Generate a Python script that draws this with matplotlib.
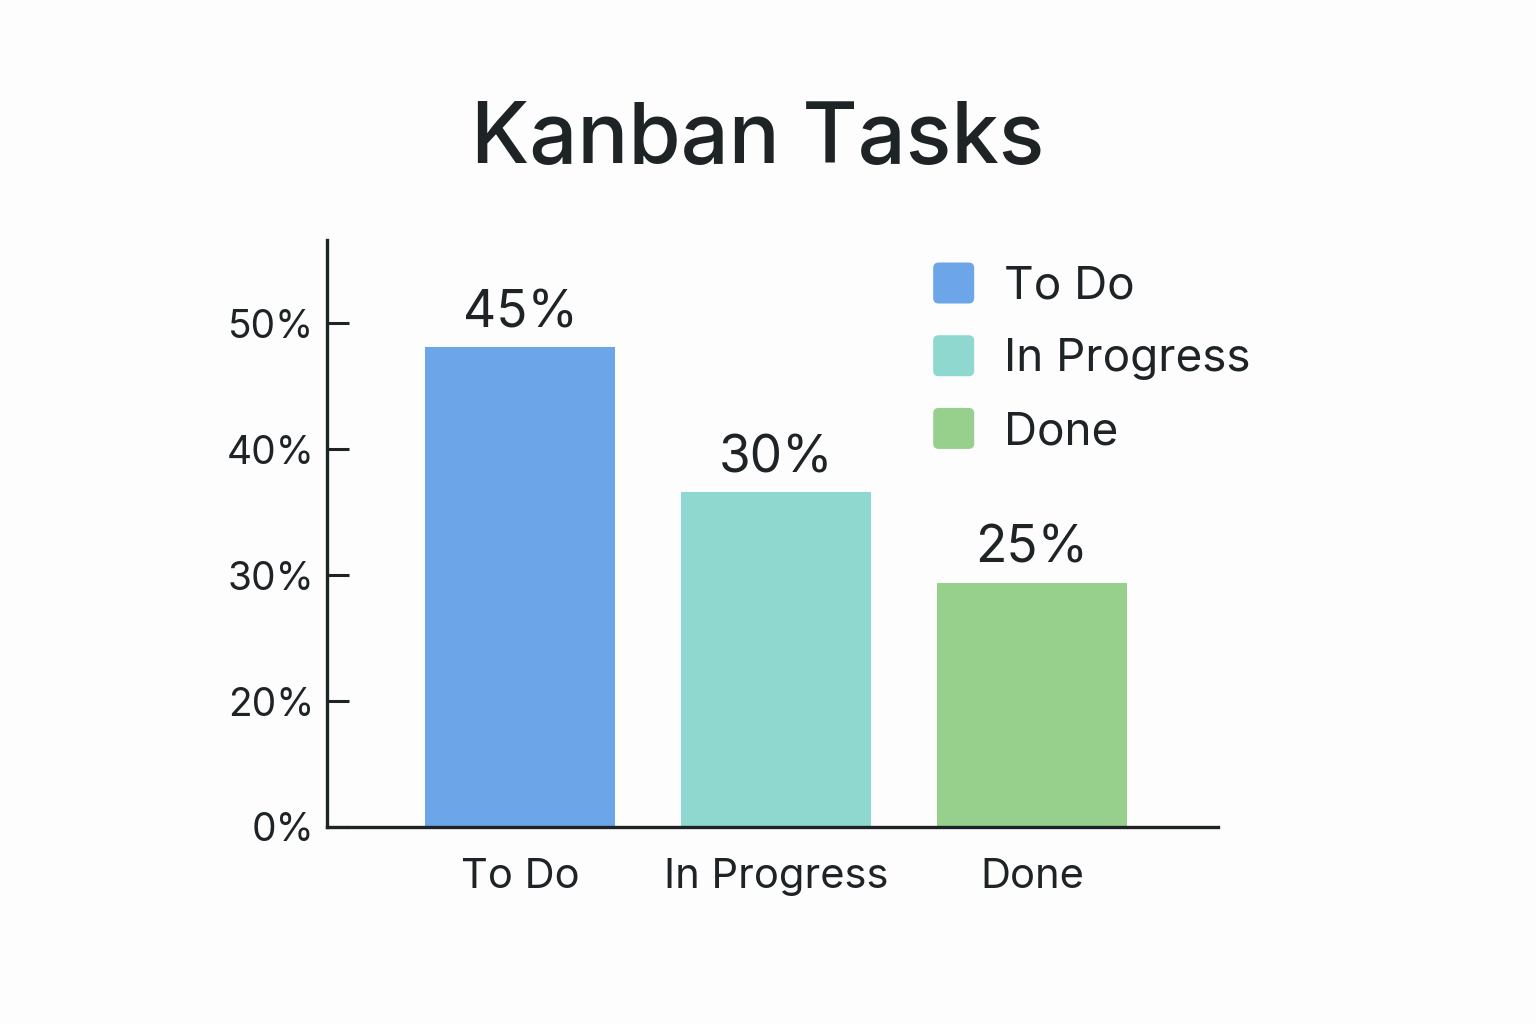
import matplotlib
matplotlib.use('Agg')
from matplotlib import pyplot as plt
from matplotlib.patches import FancyBboxPatch, Patch
from matplotlib.legend_handler import HandlerPatch

plt.rcParams['font.family'] = ['Inter', 'DejaVu Sans']

categories = ['To Do', 'In Progress', 'Done']
# bar heights as drawn, in the chart's own axis units
bar_heights = [38.1, 26.6, 19.4]
bar_labels = ['45%', '30%', '25%']
colors = ['#6ca6e8', '#8fd8d0', '#96d08c']
tick_values = [0, 10, 20, 30, 40]
tick_labels = ['0%', '20%', '30%', '40%', '50%']

ink = '#1e2326'


class RoundSquare(HandlerPatch):
    def create_artists(self, legend, orig_handle, xdescent, ydescent,
                       width, height, fontsize, trans):
        side = min(width, height)
        p = FancyBboxPatch((-xdescent, -ydescent - (side - height) / 2),
                           side, side,
                           boxstyle='round,pad=0,rounding_size=4',
                           facecolor=orig_handle.get_facecolor(),
                           edgecolor='none', transform=trans)
        return [p]


fig = plt.figure(figsize=(15.36, 10.24), dpi=100)
fig.patch.set_facecolor('#fdfdfd')
ax = fig.add_axes([0.2129, 0.1924, 0.5801, 0.5732])
ax.set_facecolor('#fdfdfd')

x = range(len(categories))
bars = ax.bar(x, bar_heights, width=0.74, color=colors)

for b, lab in zip(bars, bar_labels):
    ax.text(b.get_x() + b.get_width() / 2, b.get_height() + 0.7, lab,
            ha='center', va='bottom', fontsize=37, color=ink)

ax.set_xlim(-0.754, 2.727)
ax.set_ylim(0, 46.6)
ax.set_xticks(list(x))
ax.set_xticklabels(categories, fontsize=30, color=ink)
ax.set_yticks(tick_values)
ax.set_yticklabels(tick_labels, fontsize=28, color=ink)
ax.tick_params(axis='x', length=0, pad=22)
ax.tick_params(axis='y', direction='in', length=16, width=2.2, color=ink,
               pad=9)

for side in ['top', 'right']:
    ax.spines[side].set_visible(False)
for side in ['left', 'bottom']:
    ax.spines[side].set_linewidth(2.4)
    ax.spines[side].set_color(ink)

handles = [Patch(facecolor=c, label=n) for c, n in zip(colors, categories)]
leg = ax.legend(handles=handles, loc='upper left',
                bbox_to_anchor=(0.634, 1.032),
                frameon=False, fontsize=33, handlelength=1.0,
                handleheight=1.0, handletextpad=0.55, labelspacing=0.6,
                labelcolor=ink,
                handler_map={Patch: RoundSquare()})

fig.text(0.493, 0.863, 'Kanban Tasks', ha='center', va='center',
         fontsize=61, fontweight='medium', color=ink)

fig.savefig('out.png', dpi=100, facecolor=fig.get_facecolor())
